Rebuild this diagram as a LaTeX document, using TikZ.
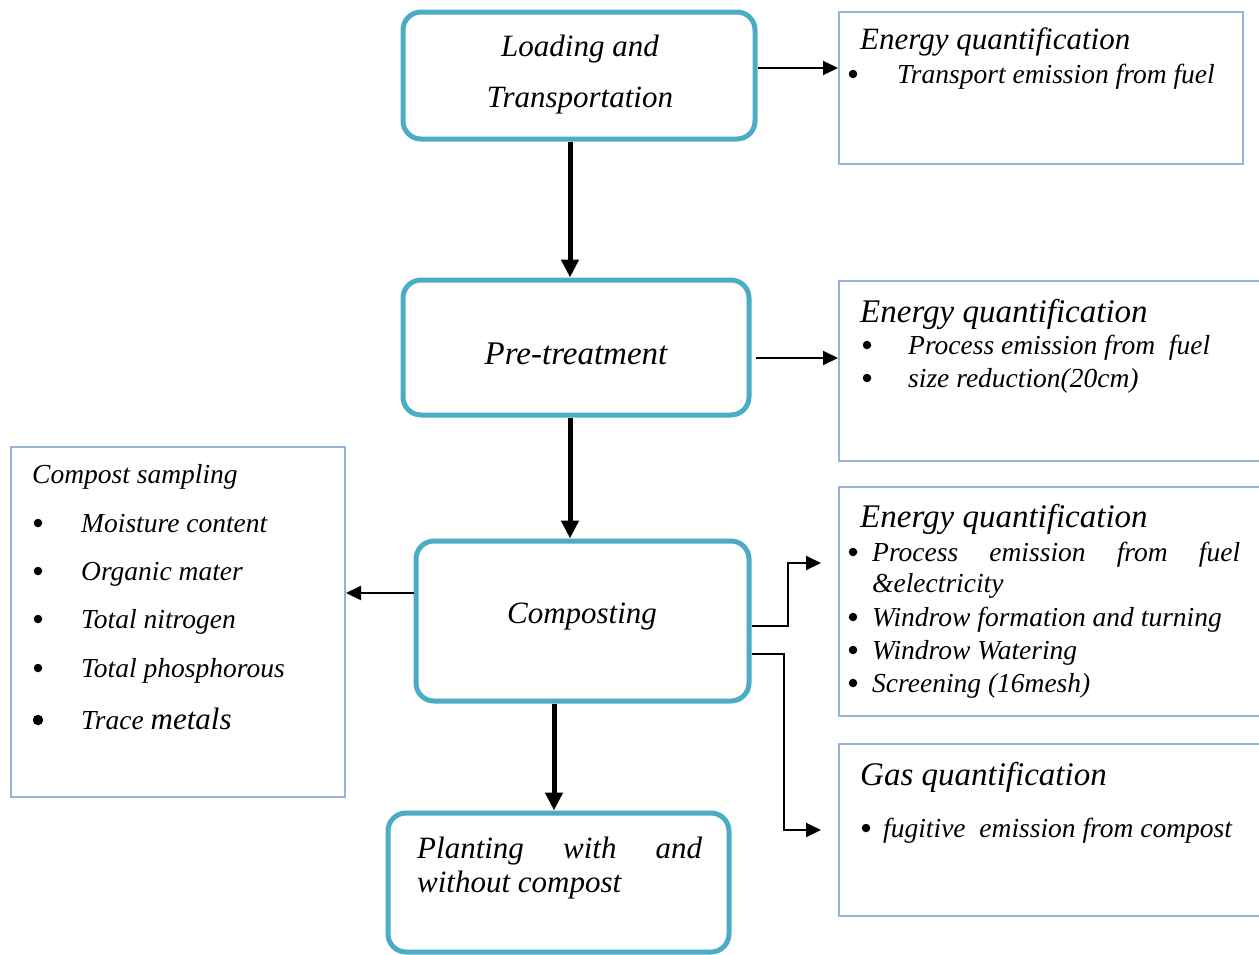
\documentclass[tikz,border=0pt]{standalone}
\usepackage{fontspec}
\setmainfont{Liberation Serif}
\usetikzlibrary{arrows.meta}

\definecolor{procblue}{HTML}{4BACC6}
\definecolor{infoblue}{HTML}{95B3D7}
\newcommand{\procfont}{\fontsize{31}{31}\selectfont\itshape}
\newcommand{\headfont}{\fontsize{33}{33}\selectfont\itshape}
\newcommand{\itemfont}{\fontsize{27.5}{27.5}\selectfont\itshape}

\begin{document}
\begin{tikzpicture}[
    x=1pt, y=-1pt,
    proc/.style={rectangle, rounded corners=18pt, draw=procblue, line width=5pt, fill=white, inner sep=0pt},
    info/.style={rectangle, draw=infoblue, line width=2pt, inner sep=0pt},
    proctext/.style={anchor=base, inner sep=0pt, font=\procfont},
    headtext/.style={anchor=base west, inner sep=0pt, font=\headfont},
    itemtext/.style={anchor=base west, inner sep=0pt, font=\itemfont},
    bul/.style={circle, fill=black, inner sep=0pt, minimum size=8.5pt},
    flowthin/.style={-{Triangle[length=15pt, width=14pt]}, line width=2pt},
    flowthick/.style={-{Triangle[length=18pt, width=17pt]}, line width=5pt}
]
    \useasboundingbox (0,0) rectangle (1259,954);

    % process boxes
    \node[proc, minimum width=352pt, minimum height=127pt] at (579,75.5) (load) {};
    \node[proc, minimum width=346pt, minimum height=135pt] at (576,347.5) (pre) {};
    \node[proc, minimum width=333pt, minimum height=160pt] at (582.5,621) (comp) {};
    \node[proc, minimum width=341pt, minimum height=139pt] at (558.5,882.5) (plant) {};

    \node[proctext] at (580,56) (loadtxta) {Loading and};
    \node[proctext] at (580,107) (loadtxtb) {Transportation};
    \node[proctext, font=\fontsize{33}{33}\selectfont\itshape] at (576,364) (pretxt) {Pre-treatment};
    \node[proctext] at (582,623) (comptxt) {Composting};
    \node[proctext, anchor=base west] at (417,858) (planttxta) {\makebox[285pt][s]{Planting with and}};
    \node[proctext, anchor=base west] at (417,892) (planttxtb) {without compost};

    % side boxes
    \node[info, minimum width=404pt, minimum height=152pt] at (1041,88) (eone) {};
    \node[info, minimum width=423pt, minimum height=180pt] at (1050.5,371) (etwo) {};
    \node[info, minimum width=423pt, minimum height=229pt] at (1050.5,601.5) (ethree) {};
    \node[info, minimum width=423pt, minimum height=172pt] at (1050.5,830) (gas) {};
    \node[info, minimum width=334pt, minimum height=350pt] at (178,622) (samp) {};

    % transport
    \node[headtext, font=\fontsize{31}{31}\selectfont\itshape] at (860,49) (eonehead) {Energy quantification};
    \node[bul] at (853,74) (eonebula) {};
    \node[itemtext] at (897,83) (eoneitema) {Transport emission from fuel};

    % pre-treatment
    \node[headtext] at (860,322) (etwohead) {Energy quantification};
    \node[bul] at (867,345) (etwobula) {};
    \node[itemtext] at (908,354) (etwoitema) {Process emission from\ \ fuel};
    \node[bul] at (867,378) (etwobulb) {};
    \node[itemtext] at (908,387) (etwoitemb) {size reduction(20cm)};

    % composting
    \node[headtext] at (860,527) (ethreehead) {Energy quantification};
    \node[bul] at (853,552) (ethreebula) {};
    \node[itemtext] at (872,561) (ethreeitema) {\makebox[368pt][s]{Process emission from fuel}};
    \node[itemtext] at (872,592) (ethreeitemb) {\&electricity};
    \node[bul] at (853,617) (ethreebulc) {};
    \node[itemtext] at (872,626) (ethreeitemc) {Windrow formation and turning};
    \node[bul] at (853,650) (ethreebuld) {};
    \node[itemtext] at (872,659) (ethreeitemd) {Windrow Watering};
    \node[bul] at (853,683) (ethreebule) {};
    \node[itemtext] at (872,692) (ethreeiteme) {Screening (16mesh)};

    % gas
    \node[headtext] at (860,785) (gashead) {Gas quantification};
    \node[bul] at (866,828) (gasbula) {};
    \node[itemtext] at (883,837) (gasitema) {fugitive\ \ emission from compost};

    % sampling
    \node[itemtext] at (32,483) (samphead) {Compost sampling};
    \node[bul] at (38,523) (sampbula) {};
    \node[itemtext] at (81,532) (sampitema) {Moisture content};
    \node[bul] at (38,571) (sampbulb) {};
    \node[itemtext] at (81,580) (sampitemb) {Organic mater};
    \node[bul] at (38,619) (sampbulc) {};
    \node[itemtext] at (81,628) (sampitemc) {Total nitrogen};
    \node[bul] at (38,668) (sampbuld) {};
    \node[itemtext] at (81,677) (sampitemd) {Total phosphorous};
    \node[bul, minimum size=10.5pt] at (38,720) (sampbule) {};
    \node[itemtext] at (81,729) (sampiteme) {Trace {\fontsize{31}{31}\selectfont metals}};

    % main flow
    \draw[flowthick] ([xshift=-9pt]load.south) -- ([xshift=-9pt]load.south |- pre.north);
    \draw[flowthick] ([xshift=-6pt]pre.south) -- ([xshift=-6pt]pre.south |- comp.north);
    \draw[flowthick] ([xshift=-28.5pt]comp.south) -- ([xshift=-28.5pt]comp.south |- plant.north);

    % side flows
    \draw[flowthin] ([yshift=7.5pt]load.east) -- ([yshift=7.5pt]load.east -| eone.west);
    \draw[flowthin] ([xshift=4pt,yshift=-10.5pt]pre.east) -- ([yshift=-10.5pt]pre.east -| etwo.west);
    \draw[flowthin] ([yshift=28pt]comp.west) -- ([yshift=28pt]comp.west -| samp.east);
    \draw[flowthin] ([yshift=-5pt]comp.east) -- ++(36,0) |- ([xshift=-17pt,yshift=38.5pt]ethree.west);
    \draw[flowthin] ([yshift=-33pt]comp.east) -- ++(32,0) |- ([xshift=-17pt]gas.west);
\end{tikzpicture}
\end{document}
